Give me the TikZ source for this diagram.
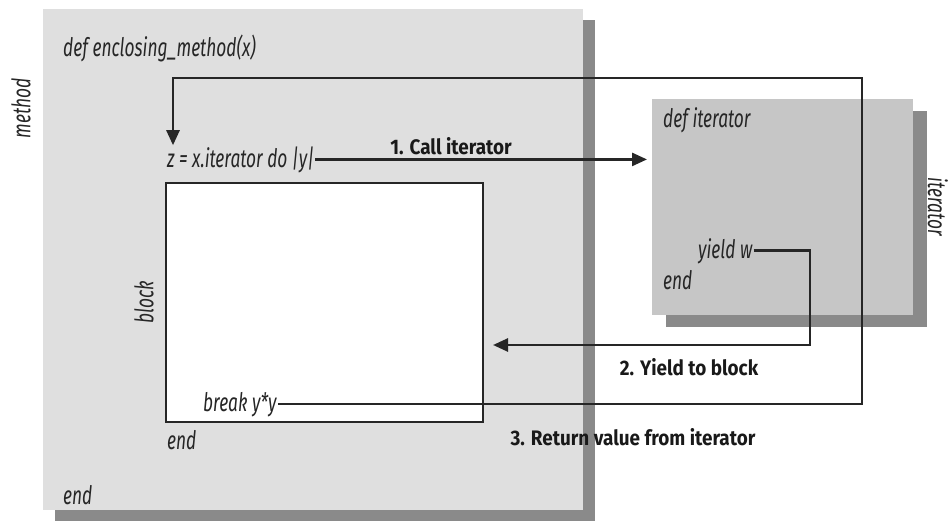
\documentclass[tikz,border=0pt]{standalone}
\usepackage{fontspec}
\setmainfont{Fira Sans}
\newfontfamily\codefont{Fira Sans}[FakeStretch=0.68]
\newfontfamily\stepfont{Fira Sans}[FakeStretch=0.9]
\usetikzlibrary{arrows.meta,shadows}

\definecolor{methodgray}{HTML}{DFDFDF}
\definecolor{itergray}{HTML}{C6C6C6}
\definecolor{shadowgray}{HTML}{8A8A8A}

\begin{document}
\begin{tikzpicture}[x=1pt,y=-1pt,
    code/.style={font=\codefont\itshape\fontsize{25.5}{29}\selectfont,text=black!85,inner sep=1pt},
    flowlabel/.style={font=\stepfont\bfseries\fontsize{21}{25}\selectfont,text=black!90,inner sep=1pt},
    wire/.style={line width=2.6pt,black!85},
    flow/.style={wire,-{Triangle[length=15pt,width=13pt]}},
    frame/.style={minimum width=#1,inner sep=0pt,outer sep=0pt}]
    \useasboundingbox (0,0) rectangle (949,524);
    % boxes
    \node [frame=540pt,minimum height=501pt,fill=methodgray,
      drop shadow={shadow xshift=12pt,shadow yshift=-11pt,fill=shadowgray,opacity=1}] (method) at (313,259.5) {};
    \node [frame=261pt,minimum height=216pt,fill=itergray,
      drop shadow={shadow xshift=14pt,shadow yshift=-12pt,fill=shadowgray,opacity=1}] (iter) at (782.5,207) {};
    \node [frame=317pt,minimum height=239pt,fill=white,draw=black!85,line width=2.6pt] (block) at (324.5,302.5) {};
    % side labels
    \node [code,rotate=90] (methodlbl) at (21,108) {method};
    \node [code,rotate=90] (blocklbl) at (144,302) {block};
    \node [code,rotate=-90] (iterlbl) at (938,207) {iterator};
    % code lines
    \node [code,anchor=base west] (defm) at (62,57) {def enclosing\_method(x)};
    \node [code,anchor=base west] (zline) at (166,167) {z = x.iterator do |y|};
    \node [code,anchor=base west] (brk) at (202,411) {break y*y};
    \node [code,anchor=base west] (blkend) at (166,449) {end};
    \node [code,anchor=base west] (methend) at (62,504) {end};
    \node [code,anchor=base west] (defi) at (662,128) {def iterator};
    \node [code,anchor=base west] (yield) at (697,258) {yield w};
    \node [code,anchor=base west] (iterend) at (662,289) {end};
    % step texts
    \node [flowlabel] (calllbl) at (451,146) {1. Call iterator};
    \node [flowlabel] (yieldlbl) at (689,367) {2. Yield to block};
    \node [flowlabel] (retlbl) at (633,437) {3. Return value from iterator};
    % connectors
    \coordinate (yturn) at (810,345);
    \coordinate (rtop) at (862,78);
    \coordinate (ltop) at (173,78);
    \draw [flow,shorten >=5pt] (zline.east) -- (zline.east -| iter.west);
    \draw [flow,shorten >=10pt] (yield.east) -| (yturn) -- (yturn -| block.east);
    \draw [flow] (brk.east) -| (rtop) -- (ltop) -- (ltop |- zline.north);
\end{tikzpicture}
\end{document}
